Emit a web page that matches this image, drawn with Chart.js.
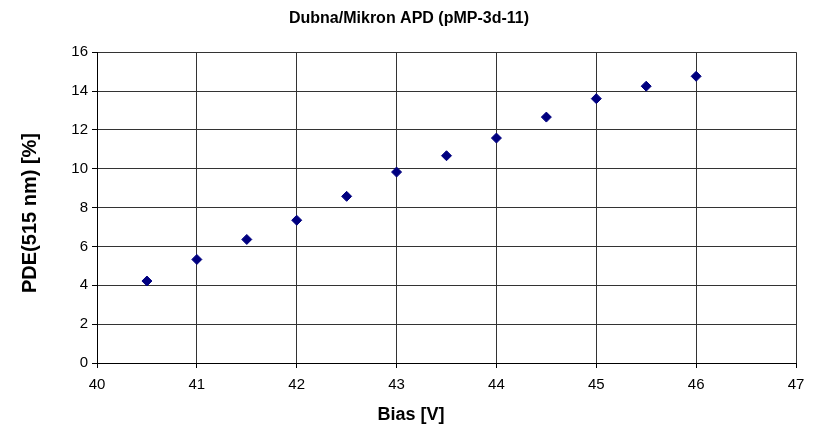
<!DOCTYPE html>
<html>
<head>
<meta charset="utf-8">
<script src="https://cdn.jsdelivr.net/npm/chart.js@4.4.0/dist/chart.umd.min.js"></script>
<style>
  html, body { margin: 0; padding: 0; background: #fff; }
  #wrap { width: 818px; height: 442px; }
</style>
</head>
<body>
<div id="wrap"><canvas id="pdeChart" width="818" height="442"></canvas></div>
<script>
// bias voltage [V] and measured PDE at 515 nm [%]
var biasV = [40.5, 41, 41.5, 42, 42.5, 43, 43.5, 44, 44.5, 45, 45.5, 46];
var pde = [4.22, 5.33, 6.36, 7.35, 8.58, 9.83, 10.67, 11.58, 12.66, 13.61, 14.25, 14.76];
var xTicks = [40, 41, 42, 43, 44, 45, 46, 47];
var yTicks = [0, 2, 4, 6, 8, 10, 12, 14, 16];
var xTitle = 'Bias [V]';
var yTitle = 'PDE(515 nm) [%]';

var points = [];
for (var i = 0; i < biasV.length; i++) {
    points.push({ x: biasV[i], y: pde[i] });
}

Chart.defaults.font.family = 'Arial, "Liberation Sans", sans-serif';
Chart.defaults.color = '#000';

// axis titles are placed relative to the whole canvas, not the plot area
var axisTitles = {
    id: 'axisTitles',
    afterDraw: function(chart) {
        var c = chart.ctx;
        c.save();
        c.fillStyle = '#000';
        c.textAlign = 'center';
        c.textBaseline = 'middle';
        c.font = 'bold 18px Arial, "Liberation Sans", sans-serif';
        c.fillText(xTitle, 411, 415);
        c.translate(30, 213);
        c.rotate(-Math.PI / 2);
        c.font = 'bold 20px Arial, "Liberation Sans", sans-serif';
        c.fillText(yTitle, 0, 0);
        c.restore();
    }
};

var ctx = document.getElementById('pdeChart');
var pdeChart = new Chart(ctx, {
    type: 'scatter',
    data: {
        datasets: [{
            label: 'pMP-3d-11',
            data: points,
            pointStyle: 'rectRot',
            pointRadius: 5,
            pointHoverRadius: 5,
            backgroundColor: '#000080',
            borderColor: '#000080',
            borderWidth: 1
        }]
    },
    options: {
        responsive: false,
        animation: false,
        devicePixelRatio: 1,
        layout: { padding: 0 },
        plugins: {
            legend: { display: false },
            tooltip: { enabled: false },
            title: {
                display: true,
                text: 'Dubna/Mikron APD (pMP-3d-11)',
                color: '#000',
                font: { size: 16, weight: 'bold' },
                padding: { top: 9, bottom: 24 }
            }
        },
        scales: {
            x: {
                type: 'linear',
                min: xTicks[0],
                max: xTicks[xTicks.length - 1],
                afterBuildTicks: function(scale) {
                    scale.ticks = xTicks.map(function(v) { return { value: v }; });
                },
                afterFit: function(scale) { scale.height = 79; },
                grid: { color: '#333', tickLength: 5, tickColor: '#000' },
                border: { color: '#000', width: 1 },
                ticks: { font: { size: 15 }, padding: 8, maxRotation: 0 }
            },
            y: {
                type: 'linear',
                min: yTicks[0],
                max: yTicks[yTicks.length - 1],
                afterBuildTicks: function(scale) {
                    scale.ticks = yTicks.map(function(v) { return { value: v }; });
                },
                afterFit: function(scale) { scale.width = 97; },
                grid: { color: '#333', tickLength: 5, tickColor: '#000' },
                border: { color: '#000', width: 1 },
                ticks: { font: { size: 15 }, padding: 4 }
            },
            // empty strip on the right so the plot stops short of the edge
            yRight: {
                type: 'linear',
                position: 'right',
                display: true,
                min: yTicks[0],
                max: yTicks[yTicks.length - 1],
                afterFit: function(scale) { scale.width = 22; },
                grid: { display: false, drawOnChartArea: false },
                border: { display: false },
                ticks: { display: false }
            }
        }
    },
    plugins: [axisTitles]
});
</script>
</body>
</html>
